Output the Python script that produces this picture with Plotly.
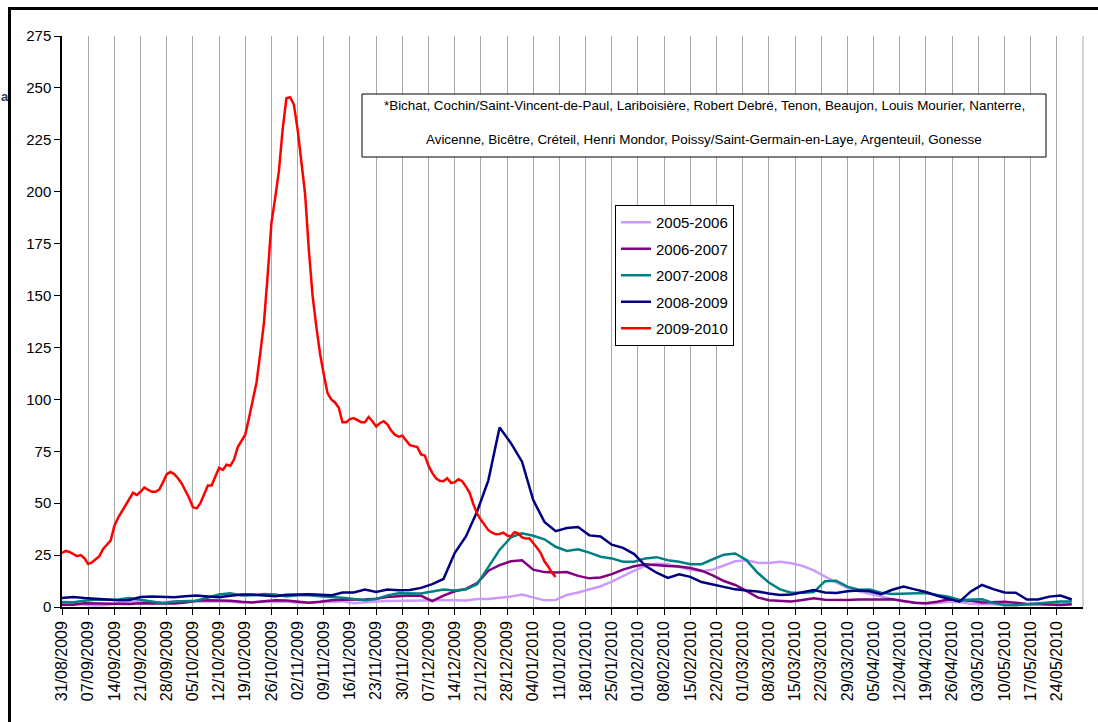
import datetime as dt
import plotly.graph_objects as go

# ---------------- data ----------------
start = dt.date(2009, 8, 31)

# day offsets from 31/08/2009
low_days = list(range(0, 271, 3))
red_days = list(range(0, 133))

s0506 = [1.9, 1.4, 1.2, 0.7, 1.0, 2.0, 2.7, 2.7, 2.3, 2.4, 2.6, 2.7, 2.7, 2.7, 2.7, 2.6, 2.0, 2.4, 2.6, 2.4,
         2.7, 2.0, 2.1, 2.3, 2.5, 2.7, 1.8, 2.4, 2.7, 2.9, 3.0, 3.2, 3.2, 3.2, 3.3, 3.2, 3.1, 3.8, 3.8, 4.5,
         5.0, 6.0, 4.5, 3.2, 3.4, 5.8, 7.0, 8.4, 10.0, 12.2, 14.9, 17.5, 19.8, 20.8, 20.6, 19.2, 17.9, 17.2, 18.0, 20.0,
         22.0, 22.5, 21.3, 21.2, 21.8, 21.1, 19.8, 17.6, 14.6, 11.8, 9.2, 7.6, 6.4, 5.0, 3.8, 2.8, 2.0, 1.5, 1.9, 2.4,
         2.4, 1.6, 1.3, 1.4, 1.3, 1.1, 1.1, 1.3, 1.4, 1.3, 1.3]

s0607 = [1.1, 1.1, 1.8, 1.7, 1.6, 1.6, 1.4, 1.8, 1.7, 1.6, 1.7, 2.2, 3.0, 3.2, 3.1, 3.0, 2.5, 2.2, 2.8, 3.2,
         3.1, 2.6, 2.0, 2.5, 3.3, 3.5, 3.5, 3.6, 4.0, 4.8, 5.2, 5.5, 5.4, 2.8, 5.5, 7.6, 8.7, 11.5, 17.5, 20.2,
         22.0, 22.5, 18.0, 16.8, 16.6, 16.8, 15.0, 13.8, 14.2, 15.8, 18.0, 19.6, 20.6, 20.0, 19.7, 19.5, 18.8, 17.5, 15.2, 12.5,
         10.6, 7.8, 4.6, 3.3, 2.9, 2.7, 3.4, 4.2, 3.5, 3.4, 3.4, 3.6, 3.5, 3.6, 3.7, 2.9, 2.1, 1.8, 2.5, 3.6,
         3.4, 3.0, 2.2, 2.2, 2.5, 2.0, 1.5, 1.4, 1.3, 1.0, 1.3]

s0708 = [2.4, 2.3, 3.0, 3.5, 3.5, 3.6, 4.3, 3.5, 2.7, 1.8, 2.6, 2.7, 3.0, 4.6, 6.0, 6.6, 5.5, 5.6, 6.3, 6.0,
         5.1, 5.6, 5.6, 5.2, 4.9, 4.5, 3.8, 3.2, 3.8, 5.6, 6.6, 6.4, 6.5, 7.5, 8.4, 7.9, 8.5, 11.0, 19.0, 27.5,
         33.5, 35.5, 34.3, 32.6, 29.0, 27.0, 27.8, 26.2, 24.2, 23.4, 21.8, 21.8, 23.4, 24.0, 22.5, 21.8, 20.6, 20.6, 23.0, 25.2,
         25.8, 22.6, 16.5, 11.8, 8.5, 6.9, 6.9, 7.2, 12.4, 12.6, 9.8, 8.3, 8.4, 6.9, 6.3, 6.5, 6.8, 6.7, 5.8, 4.9,
         3.4, 3.7, 3.7, 2.0, 0.8, 0.8, 1.2, 1.5, 2.0, 2.6, 2.6]

s0809 = [4.3, 4.8, 4.3, 4.0, 3.6, 3.2, 3.4, 4.8, 5.1, 4.9, 4.7, 5.2, 5.5, 5.1, 4.7, 5.4, 6.0, 6.0, 5.5, 5.2,
         5.9, 6.2, 6.2, 5.9, 5.6, 7.0, 7.0, 8.4, 7.2, 8.4, 8.1, 8.2, 9.2, 11.0, 13.5, 26.0, 34.0, 46.0, 61.0, 86.5,
         79.0, 70.0, 51.5, 41.0, 36.5, 38.0, 38.5, 34.5, 34.0, 30.0, 28.5, 25.5, 19.8, 16.5, 14.0, 15.8, 14.5, 12.0, 10.8, 9.7,
         8.5, 7.9, 7.5, 6.5, 5.8, 6.0, 7.2, 8.2, 7.0, 6.8, 7.6, 7.9, 7.6, 6.2, 8.3, 9.8, 8.5, 7.2, 5.4, 4.1,
         2.6, 7.5, 10.6, 8.6, 7.0, 6.9, 3.6, 3.6, 5.0, 5.5, 3.6]

s0910 = [26, 27, 26.5, 25.5, 24.5, 25, 23.5, 20.7, 21.5, 23, 24.5, 28, 30, 32, 39, 43, 46, 49, 52, 55,
         54, 55.5, 57.5, 56.5, 55.5, 55.5, 56.5, 60, 64, 65, 64, 62, 59.5, 56, 52.5, 48, 47.5, 50, 54, 58.5,
         58.5, 63, 67, 66, 68.5, 68, 71, 77, 80, 83, 91, 99, 108, 122, 137, 160, 185, 197, 210, 230,
         245, 245.5, 242, 230, 215, 199, 172, 150, 135, 122, 112, 103, 100, 98.5, 96, 89, 89, 90.5, 91, 90,
         89, 89, 91.5, 89.5, 87, 88.5, 89.5, 88, 85, 83, 82, 82.5, 80.5, 78, 77.5, 77, 73.5, 73, 68, 64.6,
         62, 60.8, 60.6, 62, 59.8, 60, 61.5, 60.6, 58, 55, 49.5, 45, 42, 39.5, 37, 35.8, 35, 35.2, 35.8, 34.5,
         34, 36, 35.5, 33.5, 33, 33, 31, 28.5, 26, 22, 19.5, 16.5, 14.5]

series_names = ["2005-2006", "2006-2007", "2007-2008", "2008-2009", "2009-2010"]
series_colors = ["#CC99FF", "#800080", "#008080", "#000080", "#FF0000"]

tick_count = 39  # weekly labels 31/08/2009 ... 24/05/2010
hospitals_line1 = ("*Bichat, Cochin/Saint-Vincent-de-Paul, Lariboisière, Robert Debré, Tenon, "
                   "Beaujon, Louis Mourier, Nanterre,")
hospitals_line2 = ("Avicenne, Bicêtre, Créteil, Henri Mondor, Poissy/Saint-Germain-en-Laye, "
                   "Argenteuil, Gonesse")

# ---------------- build ----------------
def to_dates(days):
    return [start + dt.timedelta(days=d) for d in days]

low_x = to_dates(low_days)
red_x = to_dates(red_days)
tickvals = [start + dt.timedelta(days=7 * i) for i in range(tick_count)]
ticktext = [d.strftime("%d/%m/%Y") for d in tickvals]
end = start + dt.timedelta(days=7 * tick_count)

fig = go.Figure()
all_series = [(low_x, s0506), (low_x, s0607), (low_x, s0708), (low_x, s0809), (red_x, s0910)]
for (xs, ys), name, col in zip(all_series, series_names, series_colors):
    fig.add_trace(go.Scatter(x=xs, y=ys, mode="lines", name=name, legendgroup=name,
                             line=dict(color=col, width=2.5)))

W, H = 1098, 722
L, R, T, B = 62, 1083, 36, 607
def px(x):
    return (x - L) / (R - L)
def py(y):
    return (B - y) / (B - T)

FONT = "Liberation Sans, Arial, sans-serif"
NARROW = "Liberation Sans Narrow, Arial Narrow, Liberation Sans, sans-serif"

fig.update_layout(
    width=W, height=H,
    margin=dict(l=L, r=W - R, t=T, b=H - B, pad=0),
    paper_bgcolor="white", plot_bgcolor="white",
    font=dict(family=FONT, size=14, color="black"),
    showlegend=True,
    legend=dict(x=px(615), y=py(205), xanchor="left", yanchor="top",
                bordercolor="black", borderwidth=1, bgcolor="white",
                font=dict(family=FONT, size=15, color="black"),
                itemwidth=30, tracegroupgap=4),
    xaxis=dict(type="date", range=[start, end], tickvals=tickvals, ticktext=ticktext,
               tickangle=-90, tickfont=dict(family=FONT, size=16, color="black"),
               showgrid=True, gridcolor="#A8A8A8", gridwidth=1,
               showline=True, linecolor="black", linewidth=1.5,
               ticks="outside", ticklen=6, tickcolor="black", zeroline=False),
    yaxis=dict(range=[0, 275], tickvals=list(range(0, 276, 25)),
               tickfont=dict(family=FONT, size=15, color="black"),
               showgrid=False, showline=True, linecolor="black", linewidth=1.5,
               ticks="outside", ticklen=6, tickcolor="black", zeroline=False),
)

shapes = [
    # right edge gridline
    dict(type="line", xref="paper", yref="paper", x0=1, x1=1, y0=0, y1=1,
         line=dict(color="#A8A8A8", width=1)),
    # note box
    dict(type="rect", xref="paper", yref="paper", x0=px(362), x1=px(1046), y0=py(94), y1=py(157),
         line=dict(color="black", width=1), fillcolor="white", layer="above"),
    # page frame
    dict(type="line", xref="paper", yref="paper", x0=px(9), x1=px(1098), y0=py(8.5), y1=py(8.5),
         line=dict(color="black", width=3)),
    dict(type="line", xref="paper", yref="paper", x0=px(9.5), x1=px(9.5), y0=py(7), y1=py(722),
         line=dict(color="black", width=3)),
]
fig.update_layout(shapes=shapes)

fig.add_annotation(xref="paper", yref="paper", x=px(704), y=py(106), text=hospitals_line1,
                   showarrow=False, font=dict(family=NARROW, size=13.4, color="black"),
                   xanchor="center", yanchor="middle")
fig.add_annotation(xref="paper", yref="paper", x=px(704), y=py(139), text=hospitals_line2,
                   showarrow=False, font=dict(family=NARROW, size=13.4, color="black"),
                   xanchor="center", yanchor="middle")
fig.add_annotation(xref="paper", yref="paper", x=px(0), y=py(97), text="<b>a</b>",
                   showarrow=False, font=dict(family=FONT, size=13, color="#1F3A6E"),
                   xanchor="left", yanchor="middle", borderpad=0)

fig.write_html("out.html", config={"displayModeBar": False},
               post_script="document.body.style.margin='0';document.body.style.overflow='hidden';")
